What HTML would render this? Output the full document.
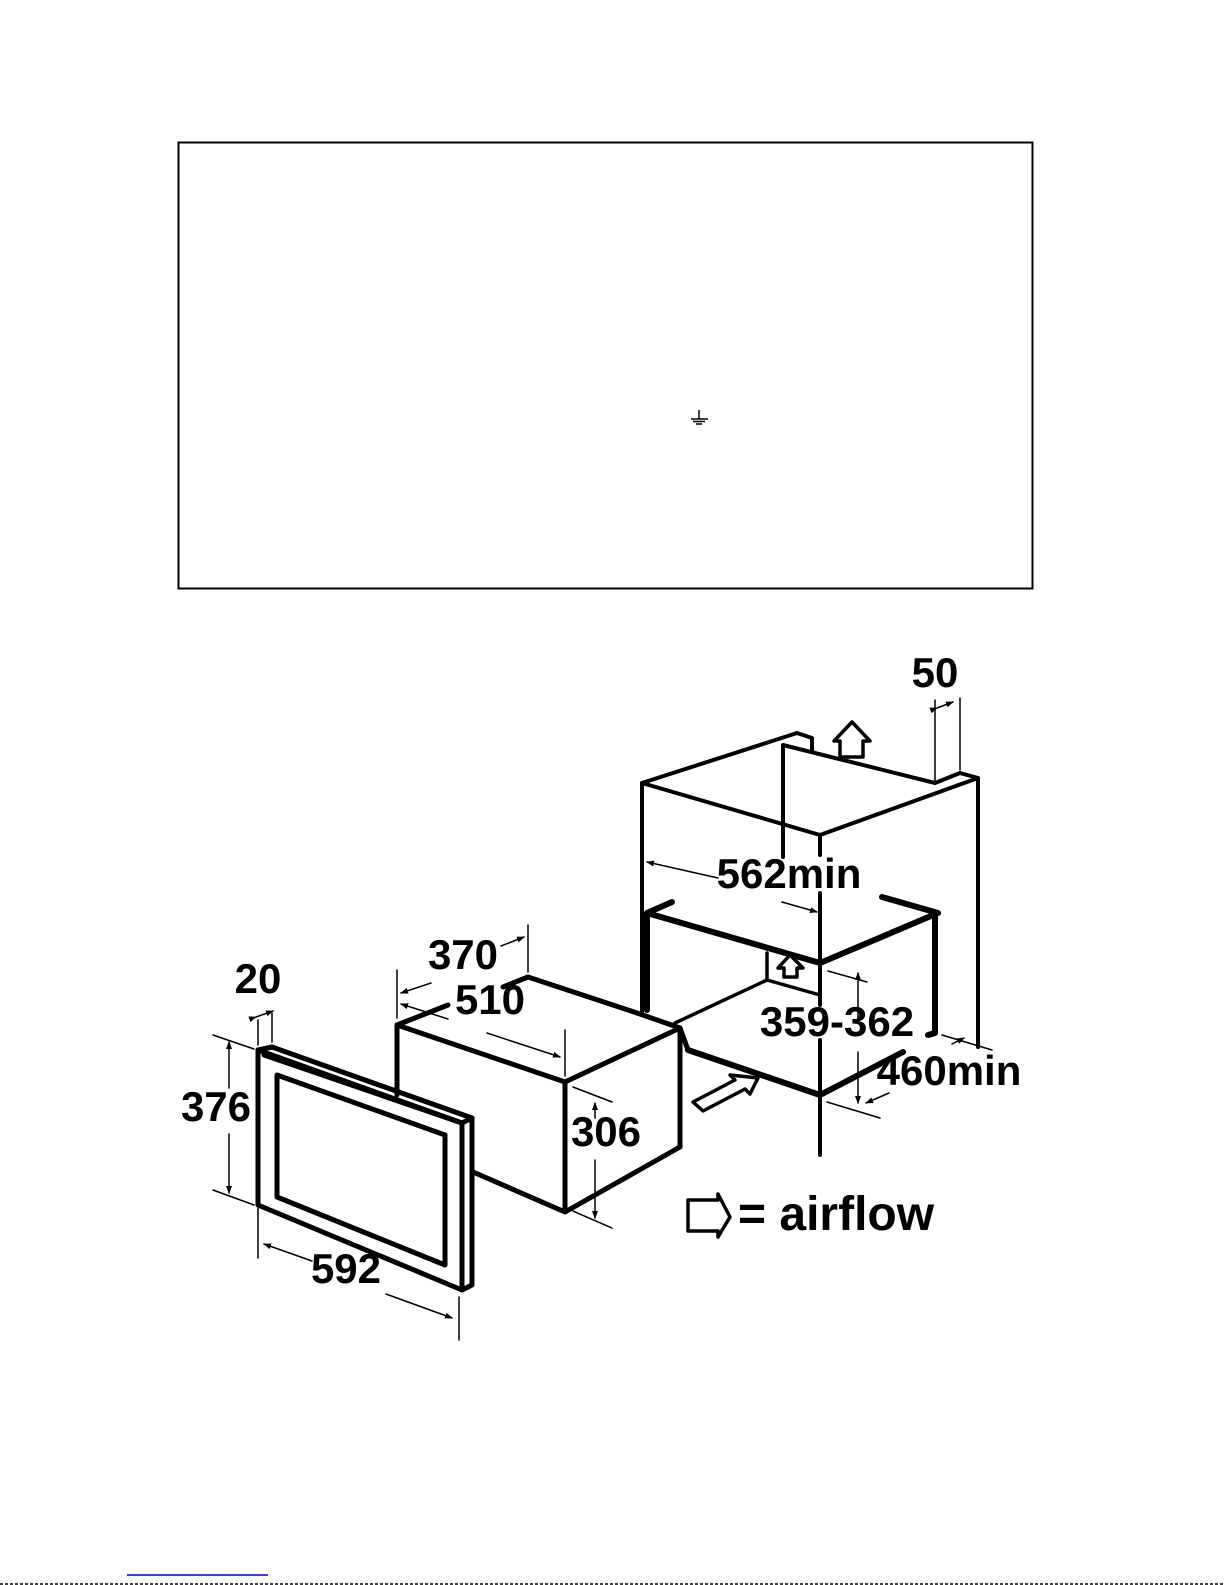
<!DOCTYPE html>
<html><head><meta charset="utf-8"><style>
html,body{margin:0;padding:0;background:#fff;overflow:hidden;width:1225px;height:1585px;}
svg{display:block;}
text{font-family:"Liberation Sans",Arial,sans-serif;font-weight:bold;fill:#000;}
</style></head><body>
<svg width="1225" height="1585" viewBox="0 0 1225 1585" xmlns="http://www.w3.org/2000/svg">
<defs>
<marker id="a" markerWidth="8" markerHeight="8" refX="7" refY="4" orient="auto" markerUnits="userSpaceOnUse"><path d="M0,1 L8,4 L0,7 Z" fill="#000"/></marker>
</defs>
<rect x="178.5" y="142.5" width="854" height="446" fill="none" stroke="#000" stroke-width="2"/>
<g stroke="#000" stroke-width="1.5">
<line x1="699" y1="410" x2="699" y2="419"/>
<line x1="691" y1="419" x2="708" y2="419"/>
<line x1="693" y1="421.5" x2="705" y2="421.5"/>
<line x1="696" y1="424" x2="702" y2="424"/>
</g>

<g fill="none" stroke="#000" stroke-linejoin="round" stroke-linecap="round">
<g stroke-width="4">
<polyline points="642,1013 642,783 797,733 812,738 812,750"/>
<polyline points="783,857 783,745 935,783 960,773 978,778 978,1047"/>
<polyline points="642,783 820,835 978,778"/>
<line x1="820" y1="835" x2="820" y2="855"/>
<line x1="820" y1="893" x2="820" y2="1005"/>
<line x1="820" y1="1040" x2="820" y2="1155"/>
</g>
<g stroke-width="6">
<polyline points="672,902 647,913 820,963 938,913 882,897"/>
<polyline points="935,913 935,1033 928,1035"/>
<polyline points="688,1050 820,1095 903,1052"/>
<line x1="647" y1="913" x2="647" y2="1010"/>
</g>
<g stroke-width="3.5">
<polyline points="767,953 767,980 820,995"/>
<line x1="767" y1="980" x2="675" y2="1023"/>
</g>
<g stroke-width="5">
<polyline points="503,987 528,977 637,1013"/>
<line x1="637" y1="1013" x2="680" y2="1028"/>
<polyline points="448,1005 397,1025 397,1095"/>
<polyline points="397,1025 565,1082 680,1028 680,1147 565,1212 473,1172"/>
<line x1="565" y1="1082" x2="565" y2="1212"/>
<line x1="680" y1="1028" x2="688" y2="1050"/>
</g>
<g stroke-width="5">
<polygon points="258,1050 462,1123 462,1290 258,1205" fill="#fff"/>
<polyline points="258,1050 272,1047 472,1118 472,1285 462,1290"/>
<line x1="462" y1="1123" x2="472" y2="1118"/>
<line x1="264" y1="1055" x2="462" y2="1123"/>
<polygon points="277,1075 445,1135 445,1265 277,1197"/>
</g>
<g stroke-width="3.5" fill="#fff">
<polygon points="840,757 840,741 834,741 852,722 870,741 863,741 863,757"/>
<polygon points="784,977 784,968 778,968 790,955 803,968 797,968 797,977"/>
<polygon points="693,1102 735,1080 730,1075 758,1078 750,1094 745,1089 703,1111"/>
<polygon points="688,1200 718,1200 718,1194 730,1217 718,1237 718,1231 688,1231"/>
</g>
<g stroke-width="1.5">
<line x1="935" y1="700" x2="935" y2="783"/>
<line x1="960" y1="698" x2="960" y2="770"/>
<line x1="937" y1="708" x2="953" y2="702" marker-end="url(#a)" marker-start="url(#a)"/>
<line x1="718" y1="878" x2="647" y2="862" marker-end="url(#a)"/>
<line x1="782" y1="902" x2="817" y2="912" marker-end="url(#a)"/>
<line x1="828" y1="971" x2="867" y2="982"/>
<line x1="827" y1="1102" x2="880" y2="1118"/>
<line x1="858" y1="1020" x2="858" y2="973" marker-end="url(#a)"/>
<line x1="858" y1="1052" x2="858" y2="1103" marker-end="url(#a)"/>
<line x1="942" y1="1035" x2="992" y2="1050"/>
<line x1="952" y1="1044" x2="964" y2="1038" marker-end="url(#a)"/>
<line x1="889" y1="1093" x2="866" y2="1103" marker-end="url(#a)"/>
<line x1="397" y1="970" x2="397" y2="1018"/>
<line x1="528" y1="925" x2="528" y2="972"/>
<line x1="431" y1="983" x2="401" y2="993" marker-end="url(#a)"/>
<line x1="501" y1="946" x2="524" y2="937" marker-end="url(#a)"/>
<line x1="448" y1="1019" x2="401" y2="1004" marker-end="url(#a)"/>
<line x1="487" y1="1033" x2="560" y2="1057" marker-end="url(#a)"/>
<line x1="565" y1="1030" x2="565" y2="1076"/>
<line x1="573" y1="1087" x2="612" y2="1102"/>
<line x1="573" y1="1211" x2="612" y2="1228"/>
<line x1="595" y1="1118" x2="595" y2="1103" marker-end="url(#a)"/>
<line x1="595" y1="1160" x2="595" y2="1218" marker-end="url(#a)"/>
<line x1="258" y1="1020" x2="258" y2="1045"/>
<line x1="272" y1="1013" x2="272" y2="1042"/>
<line x1="256" y1="1017" x2="273" y2="1011" marker-end="url(#a)" marker-start="url(#a)"/>
<line x1="213" y1="1035" x2="254" y2="1049"/>
<line x1="213" y1="1190" x2="254" y2="1205"/>
<line x1="229" y1="1088" x2="229" y2="1042" marker-end="url(#a)"/>
<line x1="229" y1="1134" x2="229" y2="1193" marker-end="url(#a)"/>
<line x1="258" y1="1208" x2="258" y2="1258"/>
<line x1="459" y1="1297" x2="459" y2="1340"/>
<line x1="312" y1="1261" x2="264" y2="1244" marker-end="url(#a)"/>
<line x1="386" y1="1294" x2="452" y2="1318" marker-end="url(#a)"/>
</g>
</g>

<g>
<text x="935" y="687" text-anchor="middle" font-size="42">50</text>
<text x="789" y="888" text-anchor="middle" font-size="42">562min</text>
<text x="837" y="1036" text-anchor="middle" font-size="42">359-362</text>
<text x="949" y="1085" text-anchor="middle" font-size="42">460min</text>
<text x="463" y="969" text-anchor="middle" font-size="42">370</text>
<text x="490" y="1014" text-anchor="middle" font-size="42">510</text>
<text x="606" y="1146" text-anchor="middle" font-size="42">306</text>
<text x="258" y="993" text-anchor="middle" font-size="42">20</text>
<text x="216" y="1121" text-anchor="middle" font-size="42">376</text>
<text x="346" y="1283" text-anchor="middle" font-size="42">592</text>
<text x="738" y="1230" font-size="48">= airflow</text>
</g>

<line x1="127" y1="1575" x2="268" y2="1575" stroke="#0000cc" stroke-width="1.5"/>
<line x1="0" y1="1584" x2="1225" y2="1584" stroke="#000" stroke-width="1.5" stroke-dasharray="3,2"/>
</svg>
</body></html>
